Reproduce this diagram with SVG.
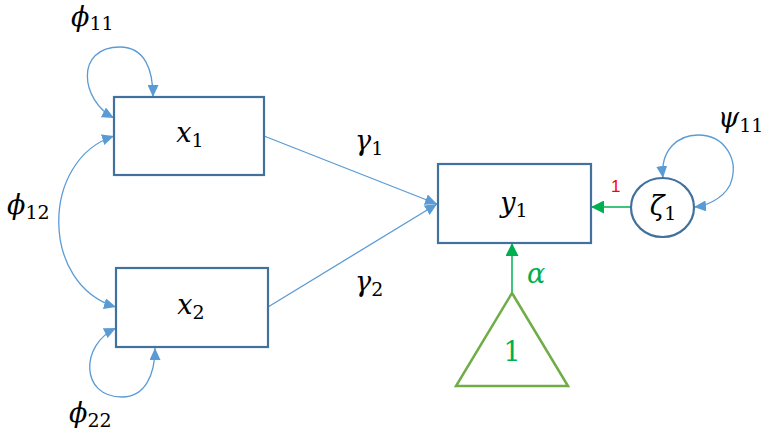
<svg xmlns="http://www.w3.org/2000/svg" width="768" height="437" viewBox="0 0 768 437">
<style>
.box{fill:#fff;stroke:#41719C;stroke-width:2.2}
.con{fill:none;stroke:#5B9BD5;stroke-width:1.3}
.gcon{fill:none;stroke:#00B050;stroke-width:1.5}
.lbl{font-family:'DejaVu Serif','Liberation Serif',serif;font-size:27px;fill:#000}
.v{font-style:italic}
.s{font-size:19px}
.g{fill:#00B050}
</style>
<defs>
<marker id="ab" markerUnits="userSpaceOnUse" markerWidth="13" markerHeight="11" refX="12" refY="5.5" orient="auto-start-reverse" viewBox="0 0 13 11">
<path d="M0,0 L12,5.5 L0,11 z" fill="#5B9BD5"/>
</marker>
<marker id="ag" markerUnits="userSpaceOnUse" markerWidth="13" markerHeight="13" refX="13" refY="6.5" orient="auto" viewBox="0 0 13 13">
<path d="M0,0 L13,6.5 L0,13 z" fill="#00B050"/>
</marker>
</defs>
<rect width="768" height="437" fill="#fff"/>
<g id="connectors">
<path class="con" d="M114,118 C80,100 75,47 120,47 C145,47 153,70 153,97" marker-start="url(#ab)" marker-end="url(#ab)"/>
<path class="con" d="M114,136 C40,160 40,285 116,307" marker-start="url(#ab)" marker-end="url(#ab)"/>
<path class="con" d="M116,328 C80,345 80,397 122,397 C145,397 155,375 155,348" marker-start="url(#ab)" marker-end="url(#ab)"/>
<path class="con" d="M663,178 C660,150 678,135 698,135 C725,135 740,160 730,185 C722,200 705,206 694,207" marker-start="url(#ab)" marker-end="url(#ab)"/>
<path class="con" d="M264,136 L437,204" marker-end="url(#ab)"/>
<path class="con" d="M268,307 L437,204" marker-end="url(#ab)"/>
<path class="gcon" d="M631,207 L591,207" marker-end="url(#ag)"/>
<path class="gcon" d="M512,293 L512,243" marker-end="url(#ag)"/>
<text class="lbl" x="71" y="26"><tspan class="v">ϕ</tspan><tspan class="s" dy="4">11</tspan></text>
<text class="lbl" x="7" y="214"><tspan class="v">ϕ</tspan><tspan class="s" dy="5">12</tspan></text>
<text class="lbl" x="69" y="422"><tspan class="v">ϕ</tspan><tspan class="s" dy="5">22</tspan></text>
<text class="lbl" x="355" y="150"><tspan class="v">γ</tspan><tspan class="s" dy="5">1</tspan></text>
<text class="lbl" x="355" y="291"><tspan class="v">γ</tspan><tspan class="s" dy="5">2</tspan></text>
<text class="lbl" x="718" y="127"><tspan class="v">ψ</tspan><tspan class="s" dy="5">11</tspan></text>
<text class="lbl g v" x="527" y="283">α</text>
<text x="611" y="192" font-family="Liberation Sans,Arial,sans-serif" font-size="17" fill="#FF0000">1</text>
</g>
<g id="x1">
<rect class="box" x="114" y="97" width="150" height="78"/>
<text class="lbl" x="190" y="142" text-anchor="middle"><tspan class="v">x</tspan><tspan class="s" dy="5">1</tspan></text>
</g>
<g id="x2">
<rect class="box" x="116" y="268" width="152" height="79"/>
<text class="lbl" x="191" y="314" text-anchor="middle"><tspan class="v">x</tspan><tspan class="s" dy="5">2</tspan></text>
</g>
<g id="y1">
<rect class="box" x="438" y="164" width="153" height="79"/>
<text class="lbl" x="514" y="212" text-anchor="middle"><tspan class="v">y</tspan><tspan class="s" dy="5">1</tspan></text>
</g>
<g id="zeta1">
<ellipse cx="662.5" cy="207.5" rx="31.5" ry="29.5" fill="#fff" stroke="#41719C" stroke-width="2.2"/>
<text class="lbl" x="663" y="215" text-anchor="middle"><tspan class="v">ζ</tspan><tspan class="s" dy="5">1</tspan></text>
</g>
<g id="one">
<path d="M512,293 L568,386 L456,386 z" fill="#fff" stroke="#70AD47" stroke-width="2.5"/>
<text class="lbl g" x="512" y="361" text-anchor="middle">1</text>
</g>
</svg>
